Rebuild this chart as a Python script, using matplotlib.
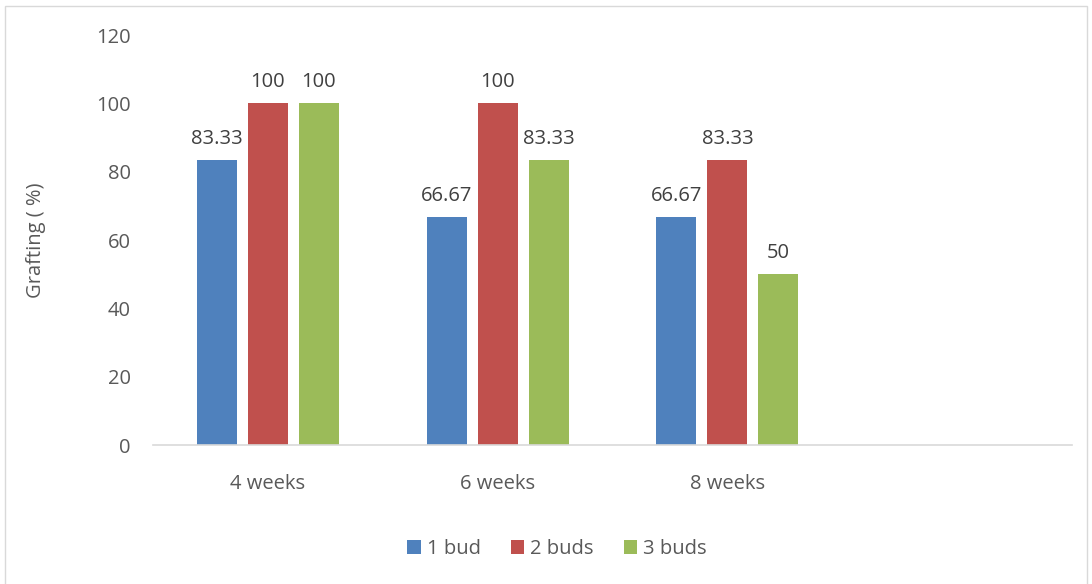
import matplotlib.pyplot as plt
from matplotlib.patches import Rectangle

categories = ['4 weeks', '6 weeks', '8 weeks', '']
series_names = ['1 bud', '2 buds', '3 buds']
one_bud = [83.33, 66.67, 66.67, None]
two_buds = [100, 100, 83.33, None]
three_buds = [100, 83.33, 50, None]
y_ticks = [0, 20, 40, 60, 80, 100, 120]

COLORS = ['#4F81BD', '#C0504D', '#9BBB59']
TEXT = '#595959'

plt.rcParams['font.family'] = ['Open Sans', 'DejaVu Sans']

fig = plt.figure(figsize=(10.92, 5.84), dpi=100)
ax = fig.add_axes([0.1401, 0.238, 0.8416, 0.702])

series = [one_bud, two_buds, three_buds]
width = 0.174
step = 0.222
for i, (name, vals) in enumerate(zip(series_names, series)):
    xs = [j + (i - 1) * step for j, v in enumerate(vals) if v is not None]
    ys = [v for v in vals if v is not None]
    rects = ax.bar(xs, ys, width=width, color=COLORS[i], label=name)
    ax.bar_label(rects, labels=[f'{v:g}' for v in ys], padding=8,
                 fontsize=14.5, color='#404040')

ax.set_xlim(-0.5, len(categories) - 0.5)
ax.set_ylim(0, 120)
ax.set_yticks(y_ticks)
ax.set_xticks(range(len(categories)))
ax.set_xticklabels(categories)
ax.tick_params(axis='both', length=0, labelsize=14.5, labelcolor=TEXT)
ax.tick_params(axis='y', pad=16)
ax.tick_params(axis='x', pad=21)
for s in ['top', 'right', 'left']:
    ax.spines[s].set_visible(False)
ax.spines['bottom'].set_color('#D9D9D9')
ax.spines['bottom'].set_linewidth(1.2)

ax.set_ylabel('Grafting ( %)', fontsize=14.5, color=TEXT, labelpad=36)

fig.legend(loc='center', bbox_to_anchor=(0.51, 0.06), ncol=3, frameon=False,
           fontsize=14.5, labelcolor=TEXT, handlelength=0.65, handleheight=0.65,
           handletextpad=0.3, columnspacing=1.5)

fig.patches.append(Rectangle((0.005, -0.01), 0.99, 1.0, transform=fig.transFigure,
                             fill=False, edgecolor='#D9D9D9', linewidth=1))

fig.savefig('out.png', dpi=100, facecolor='white')
